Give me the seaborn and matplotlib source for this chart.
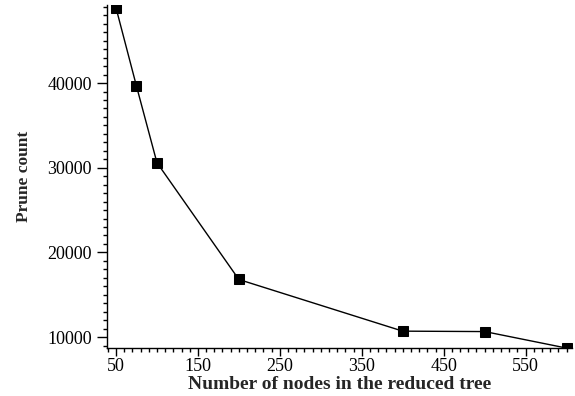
import matplotlib
matplotlib.use("Agg")
import matplotlib.pyplot as plt
from matplotlib.ticker import MultipleLocator, FixedLocator
import seaborn as sns
import pandas as pd

nodes = [50, 75, 100, 200, 400, 500, 600]
prune_count = [48900, 39650, 30600, 16800, 10700, 10650, 8700]
x_ticks = [50, 150, 250, 350, 450, 550]
y_ticks = [10000, 20000, 30000, 40000]

df = pd.DataFrame({"nodes": nodes, "prune": prune_count})

sns.set_theme(style="ticks")
plt.rcParams["font.family"] = ["Liberation Serif", "DejaVu Serif"]

fig = plt.figure(figsize=(5.75, 3.96), dpi=100)
ax = fig.add_axes([0.186, 0.121, 0.808, 0.866])

sns.lineplot(data=df, x="nodes", y="prune", ax=ax, color="black", linewidth=1.0,
             marker="s", markersize=7, markerfacecolor="black", markeredgecolor="black")

ax.set_xlim(39, 606)
ax.set_ylim(8700, 49200)
ax.xaxis.set_major_locator(FixedLocator(x_ticks))
ax.xaxis.set_minor_locator(MultipleLocator(10))
ax.yaxis.set_major_locator(FixedLocator(y_ticks))
ax.yaxis.set_minor_locator(MultipleLocator(1000))
ax.set_xticklabels([str(t) for t in x_ticks])
ax.set_yticklabels([str(t) for t in y_ticks])

ax.tick_params(axis="x", which="major", direction="out", length=6, width=1.0,
               labelsize=13, color="black", labelcolor="black", pad=1)
ax.tick_params(axis="y", which="major", direction="out", length=7, width=1.0,
               labelsize=13, color="black", labelcolor="black", pad=4)
ax.tick_params(axis="both", which="minor", direction="out", length=3, width=1.0, color="black")

for s in ["top", "right"]:
    ax.spines[s].set_visible(False)
for s in ["left", "bottom"]:
    ax.spines[s].set_color("black")
    ax.spines[s].set_linewidth(1.0)

ax.set_xlabel("Number of nodes in the reduced tree", fontsize=14, fontweight="bold", labelpad=1)
ax.set_ylabel("Prune count", fontsize=12.5, fontweight="bold", labelpad=11)
ax.grid(False)
ax.set_facecolor("white")
fig.patch.set_facecolor("white")

fig.savefig("out.png", dpi=100)
